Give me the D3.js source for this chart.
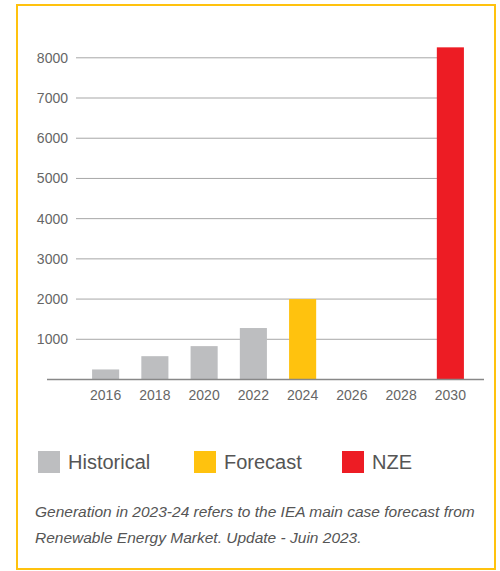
<!DOCTYPE html>
<html>
<head>
<meta charset="utf-8">
<script src="https://cdn.jsdelivr.net/npm/d3@7"></script>
<style>
  html, body { margin: 0; padding: 0; background: #fff; }
  svg { display: block; font-family: "Liberation Sans", Arial, sans-serif; }
</style>
</head>
<body>
<svg id="chart" width="500" height="571"></svg>
<script>
const years = ['2016', '2018', '2020', '2022', '2024', '2026', '2028', '2030'];
const values = [250, 580, 830, 1280, 2000, null, null, 8260];
const kinds = ['Historical', 'Historical', 'Historical', 'Historical', 'Forecast', null, null, 'NZE'];
const yTicks = [1000, 2000, 3000, 4000, 5000, 6000, 7000, 8000];
const legendLabels = ['Historical', 'Forecast', 'NZE'];
const legendColors = ['#bdbec0', '#ffc20e', '#ed1c24'];
const note = [
    'Generation in 2023-24 refers to the IEA main case forecast from',
    'Renewable Energy Market. Update - Juin 2023.'
];

const svg = d3.select('#chart');
const color = d3.scaleOrdinal().domain(legendLabels).range(legendColors);

// frame
svg.append('rect')
    .attr('x', 17).attr('y', 5)
    .attr('width', 478).attr('height', 564)
    .attr('fill', 'none')
    .attr('stroke', '#ffc20e')
    .attr('stroke-width', 2);

const x = d3.scaleBand()
    .domain(years)
    .range([81, 475])
    .paddingInner(0.45)
    .paddingOuter(0.225);
const y = d3.scaleLinear()
    .domain([0, 8000])
    .range([379.5, 57.8]);

// gridlines
svg.append('g')
    .selectAll('line')
    .data(yTicks)
    .enter()
    .append('line')
    .attr('x1', 76).attr('x2', 440)
    .attr('y1', d => y(d)).attr('y2', d => y(d))
    .attr('stroke', '#a7a7a7')
    .attr('stroke-width', 1);

svg.append('g')
    .selectAll('text')
    .data(yTicks)
    .enter()
    .append('text')
    .attr('x', 68)
    .attr('y', d => y(d))
    .attr('dy', '0.35em')
    .attr('text-anchor', 'end')
    .attr('font-size', 14)
    .attr('fill', '#666')
    .text(d => d);

// bars
svg.append('g')
    .selectAll('rect')
    .data(years.map((yr, i) => ({ yr, v: values[i], k: kinds[i] })).filter(d => d.v !== null))
    .enter()
    .append('rect')
    .attr('x', d => x(d.yr))
    .attr('width', x.bandwidth())
    .attr('y', d => y(d.v))
    .attr('height', d => y(0) - y(d.v))
    .attr('fill', d => color(d.k));

// baseline
svg.append('line')
    .attr('x1', 47).attr('x2', 484)
    .attr('y1', y(0)).attr('y2', y(0))
    .attr('stroke', '#888')
    .attr('stroke-width', 1.5);

svg.append('g')
    .selectAll('text')
    .data(years)
    .enter()
    .append('text')
    .attr('x', d => x(d) + x.bandwidth() / 2)
    .attr('y', 400)
    .attr('text-anchor', 'middle')
    .attr('font-size', 14)
    .attr('fill', '#666')
    .text(d => d);

// legend
const legendX = [38, 194, 342];
const lg = svg.append('g')
    .selectAll('g')
    .data(legendLabels)
    .enter()
    .append('g')
    .attr('transform', (d, i) => `translate(${legendX[i]},451)`);
lg.append('rect')
    .attr('width', 22).attr('height', 22)
    .attr('fill', d => color(d));
lg.append('text')
    .attr('x', 30)
    .attr('y', 18)
    .attr('font-size', 20)
    .attr('fill', '#555')
    .text(d => d);

// note
svg.append('g')
    .selectAll('text')
    .data(note)
    .enter()
    .append('text')
    .attr('x', 35)
    .attr('y', (d, i) => 517 + i * 26)
    .attr('font-size', 15.5)
    .attr('font-style', 'italic')
    .attr('fill', '#555')
    .text(d => d);
</script>
</body>
</html>
